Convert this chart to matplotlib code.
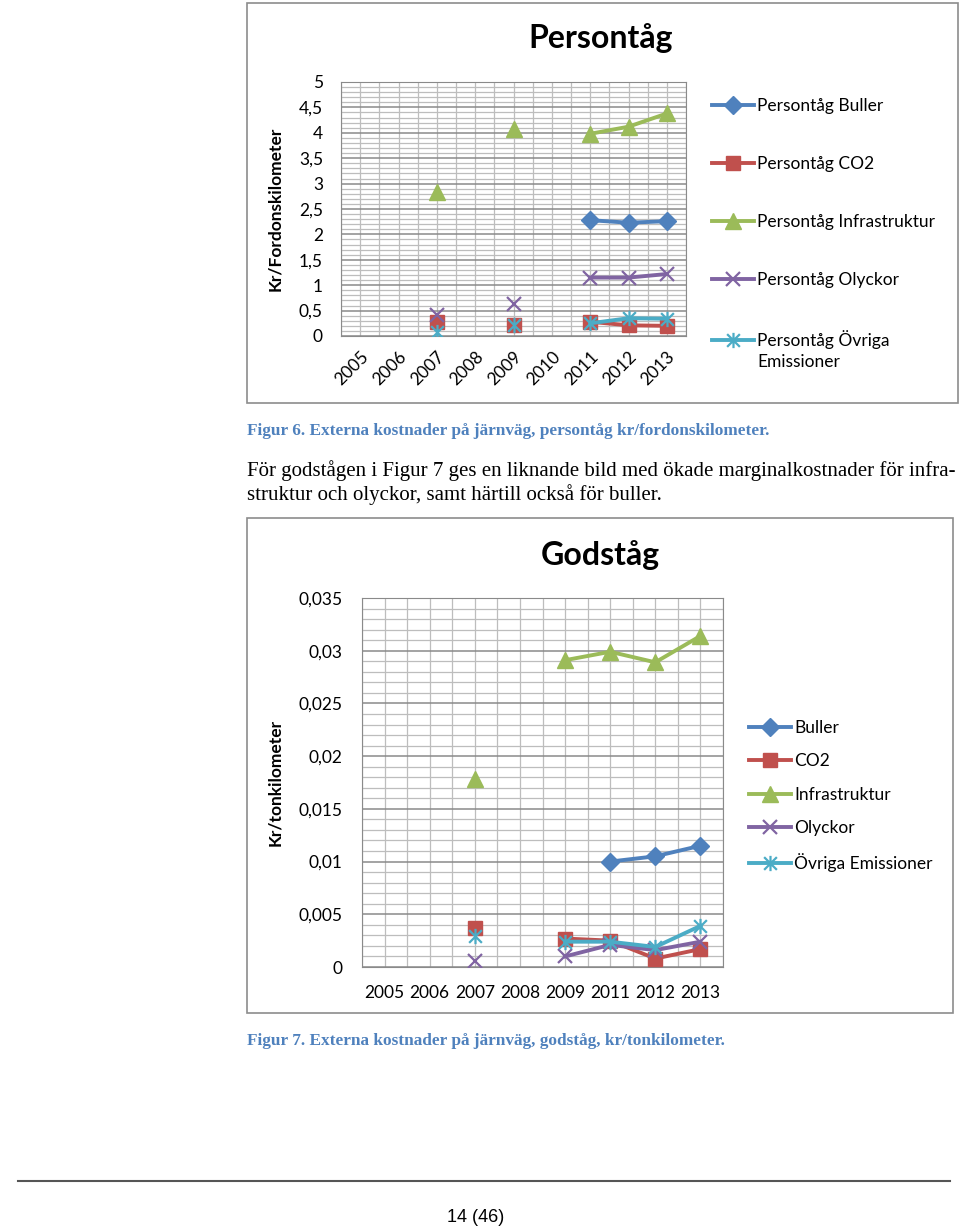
import numpy as np
import matplotlib
matplotlib.use("Agg")
import matplotlib.pyplot as plt
from matplotlib.ticker import MultipleLocator, FuncFormatter
from matplotlib.patches import Rectangle
from matplotlib.lines import Line2D
from matplotlib.path import Path

nan = np.nan

# Persontåg, kr/fordonskilometer
years_p = ['2005', '2006', '2007', '2008', '2009', '2010', '2011', '2012', '2013']
p_buller = [nan, nan, nan, nan, nan, nan, 2.28, 2.23, 2.26]
p_co2 = [nan, nan, 0.28, nan, 0.22, nan, 0.28, 0.21, 0.20]
p_infra = [nan, nan, 2.84, nan, 4.08, nan, 3.98, 4.12, 4.38]
p_olyckor = [nan, nan, 0.41, nan, 0.63, nan, 1.15, 1.15, 1.22]
p_ovriga = [nan, nan, 0.07, nan, 0.22, nan, 0.25, 0.35, 0.34]

# Godståg, kr/tonkilometer
years_g = ['2005', '2006', '2007', '2008', '2009', '2011', '2012', '2013']
g_buller = [nan, nan, nan, nan, nan, 0.0100, 0.0105, 0.0115]
g_co2 = [nan, nan, 0.0037, nan, 0.0027, 0.0025, 0.0008, 0.0017]
g_infra = [nan, nan, 0.0178, nan, 0.0291, 0.0299, 0.0289, 0.0314]
g_olyckor = [nan, nan, 0.0006, nan, 0.0010, 0.0021, 0.0016, 0.0024]
g_ovriga = [nan, nan, 0.0029, nan, 0.0024, 0.0024, 0.0019, 0.0039]

namn = ['Buller', 'CO2', 'Infrastruktur', 'Olyckor', 'Övriga Emissioner']
farger = ['#4F81BD', '#C0504D', '#9BBB59', '#8064A2', '#4BACC6']

# excel-stjärna: kryss med lodrät streck
stjarna = Path([(-1, -1), (1, 1), (-1, 1), (1, -1), (0, -1.2), (0, 1.2)],
               [Path.MOVETO, Path.LINETO] * 3)
markorer = ['D', 's', '^', 'x', stjarna]
msize = [9, 10, 11, 10, 11]

W, H = 960, 1231
fig = plt.figure(figsize=(W / 100, H / 100), dpi=100)
chartfont = 'Lato'


def px(l, t, r, b):
    return [l / W, 1 - b / H, (r - l) / W, (b - t) / H]


def ruta(l, t, r, b):
    fig.add_artist(Rectangle((l / W, 1 - b / H), (r - l) / W, (b - t) / H,
                             transform=fig.transFigure, fill=False,
                             ec='#8c8c8c', lw=1.2))


def komma(v, pos):
    return f"{v:g}".replace('.', ',')


def rita(ax, years, serier, etiketter, ymax, ymajor, yminor):
    x = np.arange(len(years))
    for i, s in enumerate(serier):
        ax.plot(x, s, color=farger[i], lw=2.8, marker=markorer[i],
                ms=msize[i], mec=farger[i], mew=1.6 if i >= 3 else 1,
                label=etiketter[i], zorder=3 + i)
    ax.set_xlim(-0.5, len(years) - 0.5)
    ax.set_ylim(0, ymax)
    ax.set_xticks(x)
    ax.set_xticklabels(years)
    ax.xaxis.set_minor_locator(MultipleLocator(0.5))
    ax.yaxis.set_major_locator(MultipleLocator(ymajor))
    ax.yaxis.set_minor_locator(MultipleLocator(yminor))
    ax.yaxis.set_major_formatter(FuncFormatter(komma))
    ax.grid(which='minor', axis='both', color='#bdbdbd', lw=0.9, zorder=0)
    ax.grid(which='major', axis='y', color='#8a8a8a', lw=1.1, zorder=1)
    ax.grid(which='major', axis='x', color='#bdbdbd', lw=0.9, zorder=0)
    ax.set_axisbelow(True)
    for sp in ax.spines.values():
        sp.set_color('#8a8a8a')
    ax.tick_params(which='both', length=0, labelsize=12.5)
    for t in ax.get_xticklabels() + ax.get_yticklabels():
        t.set_fontfamily(chartfont)


# ---- Figur 6: Persontåg ----
ruta(247, 3, 958, 403)
ax1 = fig.add_axes(px(341, 82, 686, 336))
rita(ax1, years_p, [p_buller, p_co2, p_infra, p_olyckor, p_ovriga],
     ['Persontåg Buller', 'Persontåg CO2', 'Persontåg Infrastruktur',
      'Persontåg Olyckor', 'Persontåg Övriga'], 5, 0.5, 0.1)
ax1.tick_params(axis='y', pad=13)
ax1.tick_params(axis='x', pad=9)
plt.setp(ax1.get_xticklabels(), rotation=45, ha='right', rotation_mode='anchor')
ax1.set_ylabel('Kr/Fordonskilometer', fontsize=12.5, fontweight='bold',
               fontfamily=chartfont)
ax1.yaxis.set_label_coords(-0.168, 0.5)
fig.text(601 / W, 1 - 38 / H, 'Persontåg', ha='center', va='center',
         fontsize=23, fontweight='bold', fontfamily=chartfont)
leg1 = ax1.legend(loc='upper left', bbox_to_anchor=(712 / W, 1 - 98 / H),
                  bbox_transform=fig.transFigure, frameon=False,
                  prop={'family': chartfont, 'size': 12.5}, handlelength=2.4,
                  handletextpad=0.2, labelspacing=2.42, borderpad=0,
                  borderaxespad=0)

# andra raden i sista legendposten, som i Excel
fig.canvas.draw()
bb = leg1.get_texts()[4].get_window_extent()
fig.text(bb.x0 / W, (bb.y0 - 22) / H + (bb.y1 - bb.y0) / 2 / H, 'Emissioner',
         ha='left', va='center', fontsize=12.5, fontfamily=chartfont)

# text mellan figurerna
fig.text(247 / W, 1 - 431 / H,
         'Figur 6. Externa kostnader på järnväg, persontåg kr/fordonskilometer.',
         ha='left', va='center', fontsize=12.4, fontweight='bold',
         color='#4F81BD', fontfamily='Liberation Serif')
fig.text(247 / W, 1 - 471 / H,
         'För godstågen i Figur 7 ges en liknande bild med ökade marginalkostnader för infra-',
         ha='left', va='center', fontsize=15, fontfamily='Liberation Serif')
fig.text(247 / W, 1 - 495 / H,
         'struktur och olyckor, samt härtill också för buller.',
         ha='left', va='center', fontsize=15, fontfamily='Liberation Serif')

# ---- Figur 7: Godståg ----
ruta(247, 518, 953, 1013)
ax2 = fig.add_axes(px(362, 598, 723, 967))
rita(ax2, years_g, [g_buller, g_co2, g_infra, g_olyckor, g_ovriga],
     namn, 0.035, 0.005, 0.001)
ax2.tick_params(axis='y', pad=14)
ax2.tick_params(axis='x', pad=13)
ax2.set_ylabel('Kr/tonkilometer', fontsize=12.5, fontweight='bold',
               fontfamily=chartfont)
ax2.yaxis.set_label_coords(-0.218, 0.5)
fig.text(600 / W, 1 - 555 / H, 'Godståg', ha='center', va='center',
         fontsize=23, fontweight='bold', fontfamily=chartfont)
ax2.legend(loc='upper left', bbox_to_anchor=(749 / W, 1 - 720 / H),
           bbox_transform=fig.transFigure, frameon=False,
           prop={'family': chartfont, 'size': 12.5}, handlelength=2.4,
           handletextpad=0.2, labelspacing=1.0, borderpad=0, borderaxespad=0)

fig.text(247 / W, 1 - 1041 / H,
         'Figur 7. Externa kostnader på järnväg, godståg, kr/tonkilometer.',
         ha='left', va='center', fontsize=12.4, fontweight='bold',
         color='#4F81BD', fontfamily='Liberation Serif')

# sidfot
fig.add_artist(Line2D([18 / W, 950 / W], [1 - 1181 / H, 1 - 1181 / H],
                      transform=fig.transFigure, color='#555555', lw=1.5))
fig.text(476 / W, 1 - 1218 / H, '14 (46)', ha='center', va='center',
         fontsize=13, family=['Liberation Sans Narrow', 'Liberation Sans'])

fig.savefig('out.png', dpi=100, facecolor='white')
